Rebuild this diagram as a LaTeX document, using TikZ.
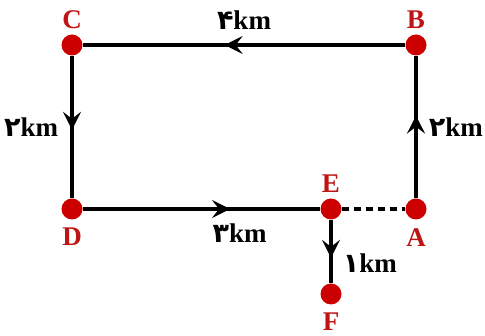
\documentclass[tikz,border=0pt]{standalone}
\usepackage{fontspec}
\setmainfont{Liberation Serif}
\newfontfamily\arabicfont[Script=Arabic]{DejaVu Sans}
\usetikzlibrary{arrows.meta,decorations.markings}
\definecolor{ptred}{RGB}{204,0,0}
\definecolor{lblred}{RGB}{190,20,20}
\tikzset{
  pt/.style={circle,fill=ptred,inner sep=0pt,minimum size=21pt},
  lbl/.style={text=lblred,font=\fontsize{27}{30}\selectfont\bfseries,label distance=2pt},
  lbldown/.style={lbl,label distance=5pt},
  dist/.style={font=\fontsize{27}{30}\selectfont\bfseries},
  road/.style={line width=3.3pt,postaction={decorate},
    decoration={markings,mark=at position #1 with {\arrow{Stealth[length=18pt,width=18pt,inset=7pt]}}}},
}

\begin{document}
\begin{tikzpicture}[x=1pt,y=-1pt]
\useasboundingbox (0,0) rectangle (485,336);

 \node[pt,label={[lbl]above:C}] (C) at (72,45) {};
 \node[pt,label={[lbl]above:B}] (B) at (416,45) {};
 \node[pt,label={[lbldown]below:D}] (D) at (72,209) {};
 \node[pt,label={[lbldown]below:A}] (A) at (416,209) {};
 \node[pt,label={[lbl]above:E}] (E) at (331,209) {};
 \node[pt,label={[lbldown]below:F}] (F) at (331,294) {};

 \draw[road=0.56] (B) -- (C) node[dist,midway,above=11pt]{{\arabicfont ۴}km};
 \draw[road=0.52] (C) -- (D) node[dist,midway,left=9pt]{{\arabicfont ۲}km};
 \draw[road=0.62] (D) -- (E) node[dist,pos=0.66,below=10pt]{{\arabicfont ۳}km};
 \draw[road=0.58] (A) -- (B) node[dist,midway,right=8pt]{{\arabicfont ۲}km};
 \draw[road=0.6] (E) -- (F) node[dist,pos=0.68,right=7pt]{{\arabicfont ۱}km};
 \draw[line width=3.3pt,dash pattern=on 7pt off 5pt] (E) -- (A);

\end{tikzpicture}
\end{document}
